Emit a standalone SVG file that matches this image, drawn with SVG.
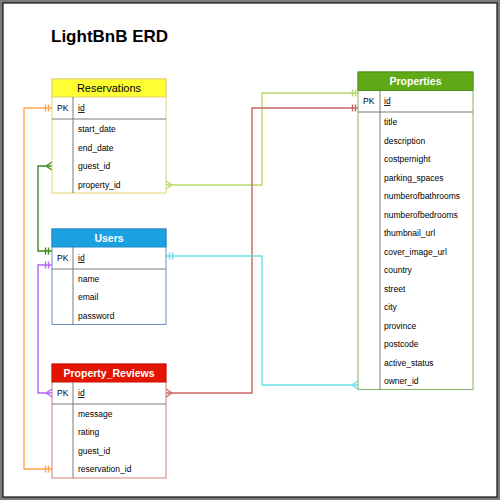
<svg xmlns="http://www.w3.org/2000/svg" width="500" height="500" viewBox="0 0 500 500">
<style>
text{font-family:"Liberation Sans",Arial,Helvetica,sans-serif;fill:#000}
.hd{font-size:11px;text-anchor:middle}
.hdw{font-size:10.5px;font-weight:bold;fill:#fff;text-anchor:middle}
.row{font-size:8.5px}
.pk{font-size:8.5px}
.div{stroke:#7a7a7a;stroke-width:1;fill:none}
.con{fill:none;stroke-width:1.4}
</style>
<rect x="0" y="0" width="500" height="500" fill="#7a7a7a"/>
<rect x="3" y="3" width="494" height="494" fill="#fff" stroke="#111" stroke-width="1.2"/>
<text x="51" y="42" style="font-size:17px;font-weight:bold">LightBnB ERD</text>

<g id="connectors">
  <g stroke="#ffa64d" class="con">
    <path d="M52,108H24V469H52"/>
    <path d="M45.5,104.5V111.5M48.5,104.5V111.5M45.5,465.5V472.5M48.5,465.5V472.5"/>
  </g>
  <g stroke="#3d8a1e" class="con">
    <path d="M52,251H38V166H52"/>
    <path d="M45.5,247.5V254.5M48.5,247.5V254.5M46,166L52,162M46,166L52,170"/>
  </g>
  <g stroke="#b266ff" class="con">
    <path d="M52,265H38V393H52"/>
    <path d="M45.5,261.5V268.5M48.5,261.5V268.5M46,393L52,389M46,393L52,397"/>
  </g>
  <g stroke="#b5da6a" class="con">
    <path d="M166,185H262V93H358"/>
    <path d="M172,185L166,181M172,185L166,189M352.5,89.5V96.5M355.5,89.5V96.5"/>
  </g>
  <g stroke="#c86464" class="con">
    <path d="M166,393H252V108H358"/>
    <path d="M172,393L166,389M172,393L166,397M352.5,104.5V111.5M355.5,104.5V111.5"/>
  </g>
  <g stroke="#6ae0e6" class="con">
    <path d="M166,256H262V385H358"/>
    <path d="M169.5,252.5V259.5M172.5,252.5V259.5M352,385L358,381M352,385L358,389"/>
  </g>
</g>

<g id="reservations">
  <rect x="52" y="79" width="114" height="114" fill="#fff" stroke="#e3d36e"/>
  <rect x="52" y="79" width="114" height="18" fill="#ffff33" stroke="#e3d36e"/>
  <path class="div" d="M52,119H166M73,97V193"/>
  <text class="hd" x="109" y="92">Reservations</text>
  <text class="pk" x="57" y="111">PK</text>
  <text class="row" x="78" y="111" text-decoration="underline">id</text>
  <text class="row" x="78" y="132">start_date</text>
  <text class="row" x="78" y="150.5">end_date</text>
  <text class="row" x="78" y="169">guest_id</text>
  <text class="row" x="78" y="187.5">property_id</text>
</g>

<g id="users">
  <rect x="52" y="229" width="114" height="95.5" fill="#fff" stroke="#6c8ebf"/>
  <rect x="52" y="229" width="114" height="18" fill="#1ba1e2" stroke="#1b8ac8"/>
  <path class="div" d="M52,269H166M73,247V324.5"/>
  <text class="hdw" x="109" y="242">Users</text>
  <text class="pk" x="57" y="261">PK</text>
  <text class="row" x="78" y="261" text-decoration="underline">id</text>
  <text class="row" x="78" y="281.5">name</text>
  <text class="row" x="78" y="300">email</text>
  <text class="row" x="78" y="318.5">password</text>
</g>

<g id="property_reviews">
  <rect x="52" y="364" width="114" height="114" fill="#fff" stroke="#d08080"/>
  <rect x="52" y="364" width="114" height="18" fill="#e51400" stroke="#c81000"/>
  <path class="div" d="M52,404H166M73,382V478"/>
  <text class="hdw" x="109" y="377">Property_Reviews</text>
  <text class="pk" x="57" y="396">PK</text>
  <text class="row" x="78" y="396" text-decoration="underline">id</text>
  <text class="row" x="78" y="416.5">message</text>
  <text class="row" x="78" y="435">rating</text>
  <text class="row" x="78" y="453.5">guest_id</text>
  <text class="row" x="78" y="472">reservation_id</text>
</g>

<g id="properties">
  <rect x="358" y="72" width="115" height="317.5" fill="#fff" stroke="#82b366"/>
  <rect x="358" y="72" width="115" height="18.5" fill="#60a917" stroke="#4f8f12"/>
  <path class="div" d="M358,112H473M380,90.5V389.5"/>
  <text class="hdw" x="415.5" y="85">Properties</text>
  <text class="pk" x="363" y="104">PK</text>
  <text class="row" x="384" y="104" text-decoration="underline">id</text>
  <text class="row" x="384" y="125">title</text>
  <text class="row" x="384" y="143.5">description</text>
  <text class="row" x="384" y="162">costpernight</text>
  <text class="row" x="384" y="180.5">parking_spaces</text>
  <text class="row" x="384" y="199">numberofbathrooms</text>
  <text class="row" x="384" y="217.5">numberofbedrooms</text>
  <text class="row" x="384" y="236">thumbnail_url</text>
  <text class="row" x="384" y="254.5">cover_image_url</text>
  <text class="row" x="384" y="273">country</text>
  <text class="row" x="384" y="291.5">street</text>
  <text class="row" x="384" y="310">city</text>
  <text class="row" x="384" y="328.5">province</text>
  <text class="row" x="384" y="347">postcode</text>
  <text class="row" x="384" y="365.5">active_status</text>
  <text class="row" x="384" y="384">owner_id</text>
</g>
</svg>
